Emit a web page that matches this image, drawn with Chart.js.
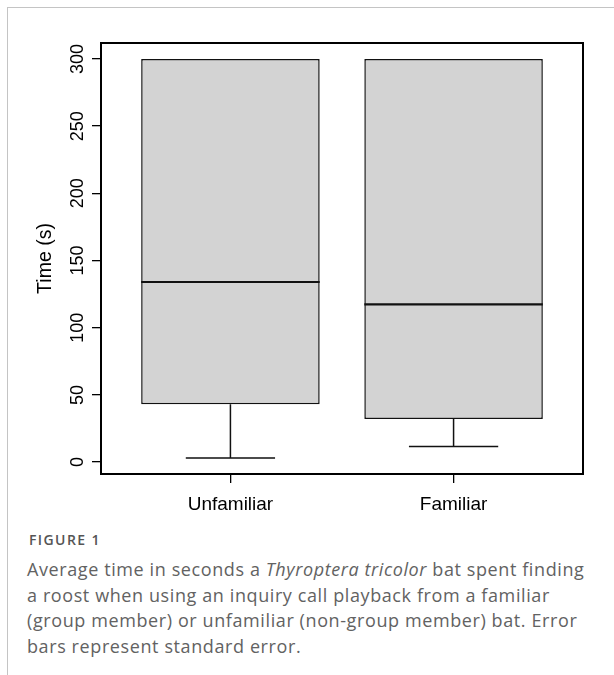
<!DOCTYPE html>
<html>
<head>
<meta charset="utf-8">
<script src="https://cdn.jsdelivr.net/npm/chart.js@4.4.1/dist/chart.umd.min.js"></script>
<style>
  html, body { margin: 0; padding: 0; background: #fff; }
  body { width: 614px; height: 675px; position: relative; overflow: hidden; }
  .frame { position: absolute; left: 7px; top: 7px; right: -2px; bottom: -2px;
           border-left: 1px solid #c4c4c4; border-top: 1px solid #c4c4c4; }
  #wrap { position: absolute; left: 0; top: 0; width: 614px; height: 520px; }
  .fig { position: absolute; left: 29px; top: 530px; font: 600 14px 'Open Sans'; letter-spacing: 1.4px; color: #555; }
  .cap { position: absolute; left: 27px; top: 557px; font: 18px/25.5px 'Open Sans'; letter-spacing: 0.6px;
         color: #626262; white-space: nowrap; }
</style>
</head>
<body>
<div class="frame"></div>
<div id="wrap"><canvas id="myChart" width="614" height="520"></canvas></div>
<div class="fig">FIGURE 1</div>
<div class="cap">Average time in seconds a <i>Thyroptera tricolor</i> bat spent finding<br>a roost when using an inquiry call playback from a familiar<br>(group member) or unfamiliar (non-group member) bat. Error<br>bars represent standard error.</div>
<script>
const groups = ['Unfamiliar', 'Familiar'];
const lowerWhisker = [3, 11.5];
const q1 = [43, 32];
const medians = [134, 117.4];
const q3 = [300, 300];
const upperWhisker = [300, 300];
const yTicks = [0, 50, 100, 150, 200, 250, 300];

const ctx = document.getElementById('myChart');

// median + whiskers, drawn through the scales
const boxExtras = {
    id: 'boxExtras',
    afterDatasetsDraw(chart) {
        const { ctx, scales: { x, y } } = chart;
        ctx.save();
        ctx.strokeStyle = '#111';
        groups.forEach((g, i) => {
            const cx = x.getPixelForValue(i + 1);
            const capL = x.getPixelForValue(i + 1 - 0.2);
            const capR = x.getPixelForValue(i + 1 + 0.2);
            ctx.lineWidth = 1.5;
            ctx.beginPath();
            ctx.moveTo(cx, y.getPixelForValue(q1[i]));
            ctx.lineTo(cx, y.getPixelForValue(lowerWhisker[i]));
            ctx.moveTo(capL, y.getPixelForValue(lowerWhisker[i]));
            ctx.lineTo(capR, y.getPixelForValue(lowerWhisker[i]));
            if (upperWhisker[i] > q3[i]) {
                ctx.moveTo(cx, y.getPixelForValue(q3[i]));
                ctx.lineTo(cx, y.getPixelForValue(upperWhisker[i]));
                ctx.moveTo(capL, y.getPixelForValue(upperWhisker[i]));
                ctx.lineTo(capR, y.getPixelForValue(upperWhisker[i]));
            }
            ctx.stroke();
            const bw = chart.getDatasetMeta(0).data[i].width;
            ctx.lineWidth = 2.2;
            ctx.beginPath();
            ctx.moveTo(cx - bw / 2, y.getPixelForValue(medians[i]));
            ctx.lineTo(cx + bw / 2, y.getPixelForValue(medians[i]));
            ctx.stroke();
        });
        ctx.restore();
    },
    afterDraw(chart) {
        const { ctx, chartArea: a, scales: { y } } = chart;
        ctx.save();
        ctx.strokeStyle = '#000';
        ctx.lineWidth = 2;
        ctx.strokeRect(a.left, a.top, a.right - a.left, a.bottom - a.top);
        // rotated y tick labels, like R's default
        ctx.font = '18px "Liberation Sans", Arial, sans-serif';
        ctx.fillStyle = '#000';
        ctx.textAlign = 'center';
        ctx.textBaseline = 'middle';
        y.ticks.forEach(t => {
            ctx.save();
            ctx.translate(a.left - 23, y.getPixelForValue(t.value));
            ctx.rotate(-Math.PI / 2);
            ctx.fillText(String(t.value), 0, 0);
            ctx.restore();
        });
        ctx.restore();
    }
};

new Chart(ctx, {
    type: 'bar',
    data: {
        datasets: [{
            label: 'Time (s)',
            data: groups.map((g, i) => ({ x: i + 1, y: [q1[i], q3[i]] })),
            backgroundColor: '#d3d3d3',
            borderColor: '#111',
            borderWidth: 1.5,
            borderSkipped: false,
            barPercentage: 0.8,
            categoryPercentage: 1
        }]
    },
    options: {
        responsive: false,
        animation: false,
        layout: { padding: { top: 43, right: 31, left: 0, bottom: 0 } },
        plugins: { legend: { display: false }, tooltip: { enabled: false } },
        scales: {
            x: {
                type: 'linear',
                min: 0.42,
                max: 2.58,
                offset: false,
                afterBuildTicks: s => { s.ticks = groups.map((g, i) => ({ value: i + 1 })); },
                afterFit: s => { s.height = 46; },
                ticks: {
                    callback: v => groups[v - 1],
                    font: { family: '"Liberation Sans", Arial, sans-serif', size: 19 },
                    color: '#000',
                    padding: 10,
                    maxRotation: 0
                },
                grid: { offset: false, drawOnChartArea: false, drawTicks: true, tickLength: 9, color: '#000', lineWidth: 1.3 },
                border: { display: false }
            },
            y: {
                min: -8.88,
                max: 311.88,
                afterBuildTicks: s => { s.ticks = yTicks.map(v => ({ value: v })); },
                afterFit: s => { s.width = 101; },
                ticks: { display: false },
                grid: { drawOnChartArea: false, drawTicks: true, tickLength: 9, color: '#000', lineWidth: 1.3 },
                border: { display: false },
                title: {
                    display: true,
                    text: 'Time (s)',
                    font: { family: '"Liberation Sans", Arial, sans-serif', size: 19.5 },
                    color: '#000',
                    padding: { top: 34, bottom: 0 }
                }
            }
        }
    },
    plugins: [boxExtras]
});
</script>
</body>
</html>
